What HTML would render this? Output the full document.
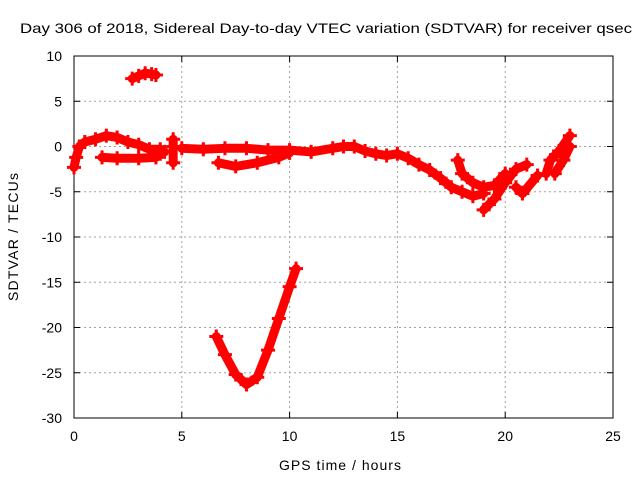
<!DOCTYPE html>
<html><head><meta charset="utf-8"><style>
body{margin:0;background:#fff}
svg text{font-family:"Liberation Sans",sans-serif;font-size:14px;fill:#000}
</style></head><body>
<svg id="c" width="640" height="480">
<g id="grid"></g>
<g id="axes"></g>
<g id="marks"></g>
<text x="20" y="33" textLength="612" lengthAdjust="spacingAndGlyphs">Day 306 of 2018, Sidereal Day-to-day VTEC variation (SDTVAR) for receiver qsec</text>
<text x="340" y="470" text-anchor="middle" textLength="122">GPS time / hours</text>
<text transform="translate(18,237) rotate(-90)" text-anchor="middle" textLength="128">SDTVAR / TECUs</text>
</svg>
<script>
const xTicks=[0,5,10,15,20,25];
const yTicks=[10,5,0,-5,-10,-15,-20,-25,-30];
const trackTop=[[2.7,7.5],[3.0,7.8],[3.3,8.1],[3.6,8.0],[3.8,7.9]];
const trackStart=[[0.0,-2.3],[0.1,-1.2],[0.25,0.0],[0.5,0.5],[1.0,0.8],[1.5,1.2],[2.0,1.0],[2.5,0.5],[3.0,0.2],[3.5,-0.3],[4.0,-0.3],[4.2,-0.6]];
const trackLow1=[[1.3,-1.2],[2.0,-1.3],[3.0,-1.3],[3.8,-1.2],[4.0,-0.8]];
const trackDot=[[4.6,0.8],[4.6,0.0],[4.6,-1.8]];
const trackMain=[[5.0,-0.2],[6.0,-0.3],[7.0,-0.2],[8.0,-0.2],[9.0,-0.4],[10.0,-0.4],[11.0,-0.6],[12.0,-0.2],[12.5,0.0],[13.0,0.0],[13.5,-0.5],[14.0,-0.8],[14.5,-1.0],[15.0,-0.8],[15.5,-1.3],[16.0,-2.0],[16.5,-2.6],[17.0,-3.5],[17.5,-4.5],[18.0,-5.0],[18.5,-5.5],[19.0,-5.2]];
const trackLow2=[[6.7,-1.8],[7.5,-2.2],[8.5,-1.8],[9.5,-1.2],[10.0,-0.7]];
const trackLoop=[[17.8,-1.5],[18.0,-3.0],[18.5,-4.0],[19.0,-4.5],[19.5,-4.3],[20.0,-3.0]];
const trackEnd1=[[19.0,-7.0],[19.5,-5.8],[20.0,-4.0],[20.5,-2.5],[21.0,-2.0]];
const trackEnd2=[[20.5,-4.5],[20.8,-5.2],[21.5,-3.2]];
const trackEnd3=[[21.9,-3.0],[22.1,-1.5],[22.5,-0.5],[23.0,1.2]];
const trackEnd4=[[22.3,-3.0],[22.7,-1.5],[23.0,0.0]];
const trackV=[[6.6,-21],[7.0,-23],[7.5,-25.2],[8.0,-26.3],[8.5,-25.5],[9.0,-22.5],[9.5,-19],[10.0,-15.5],[10.3,-13.5]];
const tracks=[trackTop,trackStart,trackLow1,trackDot,trackMain,trackLow2,trackLoop,trackEnd1,trackEnd2,trackEnd3,trackEnd4,trackV];
const X0=74,X1=613,Y0=56,Y1=418;
const xs=t=>X0+(t-0)/25*(X1-X0);
const ys=v=>Y0+(10-v)/40*(Y1-Y0);
const NS="http://www.w3.org/2000/svg";
function mk(tag,parent,attrs){const e=document.createElementNS(NS,tag);for(const k in attrs)e.setAttribute(k,attrs[k]);parent.appendChild(e);return e;}
const grid=document.getElementById('grid'),axes=document.getElementById('axes'),marks=document.getElementById('marks');
xTicks.forEach(t=>{const x=xs(t);
 if(t>0&&t<25){const l=mk('line',grid,{x1:x,x2:x,y1:Y0,y2:Y1,stroke:'#a0a0a0','stroke-dasharray':'2,3'});}
 mk('line',axes,{x1:x,x2:x,y1:Y1,y2:Y1-6,stroke:'#000'});mk('line',axes,{x1:x,x2:x,y1:Y0,y2:Y0+6,stroke:'#000'});
 const tx=mk('text',axes,{x:x,y:Y1+23,'text-anchor':'middle'});tx.textContent=t;
 });
yTicks.forEach(v=>{const y=ys(v);
 if(v<10&&v>-30){const l=mk('line',grid,{x1:X0,x2:X1,y1:y,y2:y,stroke:'#a0a0a0','stroke-dasharray':'2,3'});}
 mk('line',axes,{x1:X0,x2:X0+6,y1:y,y2:y,stroke:'#000'});mk('line',axes,{x1:X1,x2:X1-6,y1:y,y2:y,stroke:'#000'});
 const tx=mk('text',axes,{x:X0-12,y:y+5,'text-anchor':'end'});tx.textContent=v;
 });
const b=mk('rect',axes,{x:X0,y:Y0,width:X1-X0,height:Y1-Y0,fill:'none',stroke:'#000'});

tracks.forEach(tr=>{
 const pts=tr.map(p=>xs(p[0])+','+ys(p[1])).join(' ');
 const pl=mk('polyline',marks,{points:pts,fill:'none',stroke:'#ff0000','stroke-width':9,'stroke-linejoin':'round','stroke-linecap':'round'});
 
 
 tr.forEach(p=>{const x=xs(p[0]),y=ys(p[1]);
  const m=mk('path',marks,{d:`M${x-7},${y}H${x+7}M${x},${y-7}V${y+7}`,stroke:'#ff0000','stroke-width':3});
  
  });
});
</script>
</body></html>
